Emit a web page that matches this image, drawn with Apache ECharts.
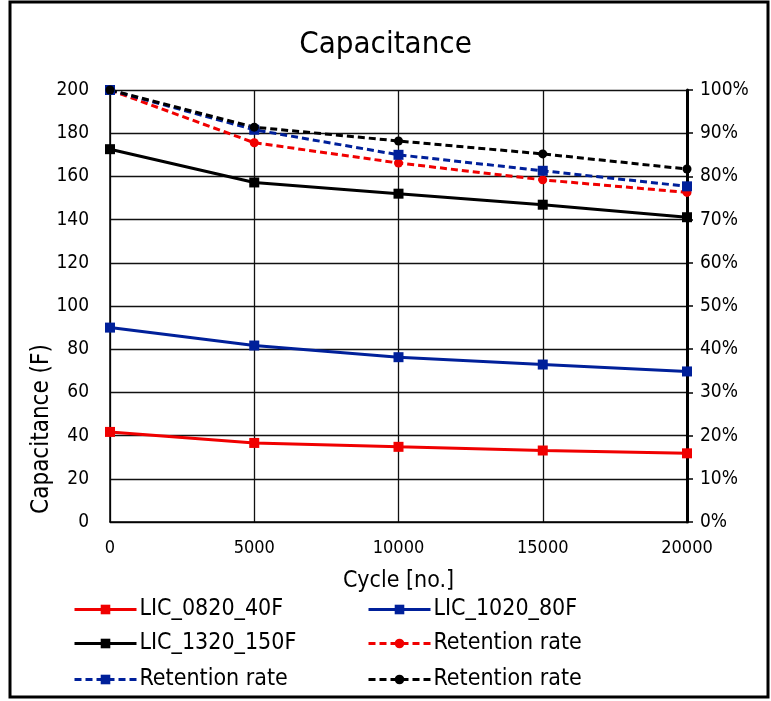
<!DOCTYPE html>
<html><head><meta charset="utf-8">
<script src="https://cdn.jsdelivr.net/npm/echarts@6/dist/echarts.min.js"></script>
<style>html,body{margin:0;padding:0;background:#fff}#c{width:771px;height:701px}</style>
</head><body><div id="c"></div>
<script>
const cycles = [0, 5000, 10000, 15000, 20000];
const cap40 = [41.7, 36.6, 34.8, 33.1, 31.8];
const cap80 = [90, 81.7, 76.3, 72.9, 69.7];
const cap150 = [172.6, 157.2, 152, 146.9, 141.1];
const ret40 = [1.0, 0.878, 0.831, 0.792, 0.763];
const ret80 = [1.0, 0.908, 0.85, 0.813, 0.777];
const ret150 = [1.0, 0.914, 0.882, 0.852, 0.817];
const names = ['LIC_0820_40F','LIC_1020_80F','LIC_1320_150F','Retention rate','Retention rate ','Retention rate  '];

const FONT = '"DejaVu Sans Condensed", "DejaVu Sans", sans-serif';
const RED = '#f00000', BLUE = '#00209a', BLACK = '#000';
function pairs(ys){ return cycles.map((x,i)=>[x, ys[i]]); }
function ser(name, ys, color, dashed, symbol, yIdx){
  return {name, type:'line', data:pairs(ys), yAxisIndex:yIdx, symbol, symbolSize: symbol==='rect'?10:9,
    lineStyle:{color, width:3, type:dashed?[7,4]:'solid'}, itemStyle:{color},
    emphasis:{disabled:true}, z: dashed?3:2};
}
const legendCommon = {itemWidth:62, itemHeight:12, padding:0, lineStyle:{width:3},
  textStyle:{fontFamily:FONT, fontSize:23, color:'#000', padding:[0,0,0,-2]}, itemGap:0, selectedMode:false};
const chart = echarts.init(document.getElementById('c'), null, {renderer:'canvas'});
chart.setOption({
  animation:false,
  backgroundColor:'#fff',
  title:{text:'Capacitance', left:'center', top:24, textStyle:{fontFamily:FONT, fontSize:31, fontWeight:'normal', color:'#000'}},
  grid:{left:110, right:84, top:90, bottom:179},
  xAxis:{type:'value', min:0, max:20000, interval:5000, name:'Cycle [no.]', nameLocation:'middle', nameGap:48,
    nameTextStyle:{fontFamily:FONT, fontSize:23, color:'#000'},
    axisLine:{lineStyle:{color:'#000', width:1.5}}, axisTick:{show:false},
    axisLabel:{fontFamily:FONT, fontSize:18, color:'#000', margin:17, formatter:v=>String(v)},
    splitLine:{show:true, lineStyle:{color:'#111', width:1.3}}},
  yAxis:[
    {type:'value', min:0, max:200, interval:20,
     axisLine:{show:true, lineStyle:{color:'#000', width:1.5}}, axisTick:{show:false},
     axisLabel:{fontFamily:FONT, fontSize:19, color:'#000', margin:21},
     splitLine:{show:true, lineStyle:{color:'#111', width:1.3}}},
    {type:'value', min:0, max:1, interval:0.1, position:'right',
     axisLine:{show:true, lineStyle:{color:'#000', width:3}}, axisTick:{show:true, length:6, lineStyle:{color:'#000', width:1.5}},
     axisLabel:{fontFamily:FONT, fontSize:19, color:'#000', margin:13, formatter:v=>Math.round(v*100)+'%'},
     splitLine:{show:false}}
  ],
  legend:[
    Object.assign({data:[names[0]], left:73, top:598}, legendCommon),
    Object.assign({data:[names[1]], left:367, top:598}, legendCommon),
    Object.assign({data:[names[2]], left:73, top:632}, legendCommon),
    Object.assign({data:[names[3]], left:367, top:632}, legendCommon),
    Object.assign({data:[names[4]], left:73, top:668}, legendCommon),
    Object.assign({data:[names[5]], left:367, top:668}, legendCommon)
  ],
  series:[
    ser(names[0], cap40, RED, false, 'rect', 0),
    ser(names[1], cap80, BLUE, false, 'rect', 0),
    ser(names[2], cap150, BLACK, false, 'rect', 0),
    ser(names[3], ret40, RED, true, 'circle', 1),
    ser(names[4], ret80, BLUE, true, 'rect', 1),
    ser(names[5], ret150, BLACK, true, 'circle', 1)
  ],
  graphic:[
    {type:'rect', shape:{x:10, y:2, width:758, height:695}, style:{fill:null, stroke:'#000', lineWidth:3}, silent:true},
    {type:'text', x:42, y:429, rotation:Math.PI/2, silent:true,
     style:{text:'Capacitance (F)', fontFamily:FONT, fontSize:24, fill:'#000', textAlign:'center', textVerticalAlign:'middle'}}
  ]
});
</script></body></html>
